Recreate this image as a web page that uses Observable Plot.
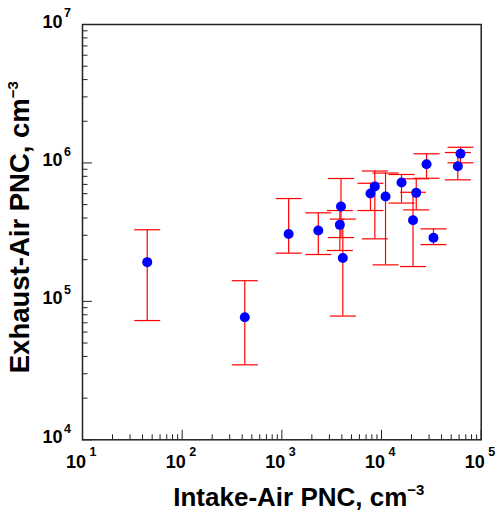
<!DOCTYPE html>
<html><head><meta charset="utf-8">
<script src="https://cdn.jsdelivr.net/npm/d3@7"></script>
<script src="https://cdn.jsdelivr.net/npm/@observablehq/plot@0.6"></script>
<style>body{margin:0;background:#fff}</style>
</head><body><div id="chart"></div>
<script>
// Data
const intake  = [44.6, 425, 1170, 2320, 3920, 3820, 4090, 7750, 8570, 10970, 15870, 22300, 20700, 28300, 33200, 62000, 58300];
const exhaust = [192000, 76800, 307000, 325000, 484000, 357000, 206000, 601000, 675000, 572000, 722000, 608000, 385000, 979000, 288000, 1164000, 946000];
const upper   = [329000, 141000, 553000, 436000, 772000, 453000, 393000, 713000, 874000, 845000, 825000, 768000, 614000, 1164000, 334000, 1298000, 1189000];
const lower   = [72700, 34800, 223000, 218000, 289000, 233000, 78300, 453000, 283000, 183500, 513000, 458000, 178400, 775000, 257000, 1002000, 755000];

// Tick values and labels
const xMajor = [10, 100, 1000, 10000, 100000];
const xExp   = ["1", "2", "3", "4", "5"];
const yMajor = [10000, 100000, 1000000, 10000000];
const yExp   = ["4", "5", "6", "7"];
const xMinor = [10, 100, 1000, 10000].flatMap(d => [2,3,4,5,6,7,8,9].map(k => k * d));
const yMinor = [10000, 100000, 1000000].flatMap(d => [2,3,4,5,6,7,8,9].map(k => k * d));

const xTitle = "Intake-Air PNC, cm^\u22123";
const yTitle = "Exhaust-Air PNC, cm^\u22123";

const W = 500, H = 524, mL = 82, mR = 19.3, mT = 24, mB = 84.7;
const plotW = W - mL - mR, plotH = H - mT - mB;
const rows = intake.map((x, i) => ({x, y: exhaust[i], lo: lower[i], hi: upper[i]}));
const cap = {draw(ctx) { ctx.moveTo(-13, 0); ctx.lineTo(13, 0); }};
const font = "'Liberation Sans', Arial, Helvetica, sans-serif";
const xm = xMajor.map((v, i) => ({v, e: xExp[i]}));
const ym = yMajor.map((v, i) => ({v, e: yExp[i]}));

const chart = Plot.plot({
  width: W, height: H,
  marginLeft: mL, marginRight: mR, marginTop: mT, marginBottom: mB,
  style: {fontFamily: font, background: "#fff", color: "#000"},
  x: {type: "log", domain: [10, 1e5], axis: null},
  y: {type: "log", domain: [1e4, 1e7], axis: null},
  marks: [
    Plot.tickX(xMinor, {x: d => d, insetTop: plotH - 5, stroke: "#222"}),
    Plot.tickX(xMajor, {x: d => d, insetTop: plotH - 9.5, stroke: "#222"}),
    Plot.tickY(yMinor, {y: d => d, insetRight: plotW - 5.5, stroke: "#222"}),
    Plot.tickY(yMajor, {y: d => d, insetRight: plotW - 10, stroke: "#222"}),
    Plot.frame({stroke: "#222", strokeWidth: 1.5}),
    Plot.ruleX(rows, {x: "x", y1: "lo", y2: "hi", stroke: "#ff0000", strokeWidth: 1.2}),
    Plot.dot(rows, {x: "x", y: "hi", symbol: cap, r: 13, stroke: "#ff0000", fill: "none", strokeWidth: 1.2}),
    Plot.dot(rows, {x: "x", y: "lo", symbol: cap, r: 13, stroke: "#ff0000", fill: "none", strokeWidth: 1.2}),
    Plot.dot(rows, {x: "x", y: "y", r: 5, fill: "#0000ff", stroke: "none"}),
    // x tick labels
    Plot.text(xm, {x: "v", frameAnchor: "bottom", text: () => "10", textAnchor: "end", lineAnchor: "bottom", dx: 3.5, dy: 28.4, fontSize: 18, fontWeight: "bold", fill: "#000"}),
    Plot.text(xm, {x: "v", frameAnchor: "bottom", text: "e", textAnchor: "start", lineAnchor: "bottom", dx: 7, dy: 16, fontSize: 12.5, fontWeight: "bold", fill: "#000"}),
    // y tick labels
    Plot.text(ym, {y: "v", frameAnchor: "left", text: () => "10", textAnchor: "end", lineAnchor: "bottom", dx: -20, dy: 3, fontSize: 18, fontWeight: "bold", fill: "#000"}),
    Plot.text(ym, {y: "v", frameAnchor: "left", text: "e", textAnchor: "start", lineAnchor: "bottom", dx: -18.5, dy: -7.3, fontSize: 12.5, fontWeight: "bold", fill: "#000"}),
    // axis titles
    Plot.text([xTitle], {frameAnchor: "bottom", text: d => d, textAnchor: "middle", lineAnchor: "bottom", dx: 17, dy: 65.7, fontSize: 26, fontWeight: "bold", fill: "#000"}),
    Plot.text([yTitle], {frameAnchor: "left", rotate: -90, text: d => d, textAnchor: "middle", lineAnchor: "bottom", dx: -54, dy: -5, fontSize: 27.5, fontWeight: "bold", fill: "#000"})
  ]
});

// superscripts in axis titles
chart.querySelectorAll("text").forEach(t => {
  const s = t.textContent;
  if (s.includes("^")) {
    const [main, sup] = s.split("^");
    while (t.firstChild) t.removeChild(t.firstChild);
    t.appendChild(document.createTextNode(main));
    const ts = document.createElementNS("http://www.w3.org/2000/svg", "tspan");
    ts.setAttribute("dy", "-11");
    ts.setAttribute("font-size", "15");
    ts.textContent = sup;
    t.appendChild(ts);
  }
});
document.getElementById("chart").appendChild(chart);
</script>
</body></html>
